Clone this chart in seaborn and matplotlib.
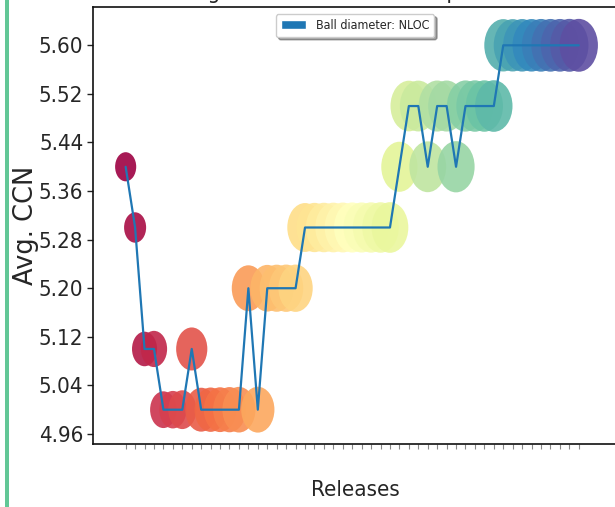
import numpy as np
import matplotlib
matplotlib.use("Agg")
import matplotlib.pyplot as plt
from matplotlib.path import Path
from matplotlib.markers import MarkerStyle
from matplotlib.patches import Patch, Rectangle
import seaborn as sns

# Average cyclomatic complexity per release
avg_ccn = [5.40, 5.30, 5.10, 5.10, 5.00, 5.00, 5.00, 5.10,
           5.00, 5.00, 5.00, 5.00, 5.00, 5.20, 5.00,
           5.20, 5.20, 5.20, 5.20,
           5.30, 5.30, 5.30, 5.30, 5.30, 5.30, 5.30, 5.30, 5.30, 5.30,
           5.40, 5.50, 5.50, 5.40, 5.50, 5.50, 5.40,
           5.50, 5.50, 5.50, 5.50,
           5.60, 5.60, 5.60, 5.60, 5.60, 5.60, 5.60, 5.60, 5.60]

# Code size per release (thousands of NLOC)
nloc_k = [44, 48, 62, 68, 70, 73, 78, 96,
          100, 102, 104, 106, 108, 109, 109,
          113, 115, 116, 116,
          124, 126, 127, 128, 129, 130, 130, 131, 132, 133,
          130, 133, 134, 134, 135, 135, 136,
          136, 137, 137, 138,
          142, 142, 143, 143, 144, 144, 144, 145, 145]

releases = list(range(len(avg_ccn)))
y_ticks = [4.96, 5.04, 5.12, 5.20, 5.28, 5.36, 5.44, 5.52, 5.60]

sns.set_style("ticks")
plt.rcParams["font.family"] = ["DejaVu Sans"]
plt.rcParams["font.stretch"] = "condensed"

fig = plt.figure(figsize=(6.15, 5.07), dpi=100)
ax = fig.add_axes([93 / 615, 63 / 507, 524 / 615, 437.5 / 507])

# Tall elliptical ball marker
circle = Path.unit_circle()
ellipse = Path(circle.vertices * np.array([1 / 1.38, 1.0]), circle.codes)
ball = MarkerStyle(ellipse)

sns.scatterplot(x=releases, y=avg_ccn, hue=releases, palette="Spectral",
                hue_norm=(0, len(releases) - 1),
                size=nloc_k, sizes=(10 * min(nloc_k), 10 * max(nloc_k)),
                size_norm=(min(nloc_k), max(nloc_k)),
                marker=ball, alpha=0.9, linewidth=0, edgecolor="none",
                legend=False, ax=ax, zorder=1)
sns.lineplot(x=releases, y=avg_ccn, color="#1f77b4", linewidth=1.6,
             ax=ax, zorder=3)

ax.set_xlim(-3.46, 52.05)
ax.set_ylim(4.9435, 5.6639)
ax.set_yticks(y_ticks)
ax.set_yticklabels([f"{v:.2f}" for v in y_ticks])
ax.set_xticks(releases)
ax.set_xticklabels([""] * len(releases))
ax.tick_params(axis="y", labelsize=16, length=4.5, width=1, pad=2.5,
               color="#222222")
ax.tick_params(axis="x", length=3.5, width=0.8, color="#888888")
for side in ("left", "bottom", "top", "right"):
    ax.spines[side].set_visible(True)
    ax.spines[side].set_color("#111111")
    ax.spines[side].set_linewidth(1.2)

ax.set_xlabel("Releases", fontsize=16)
ax.xaxis.set_label_coords(0.5, -0.083)
ax.set_ylabel("Avg. CCN", fontsize=18.5, fontstretch="normal")
ax.yaxis.set_label_coords(-0.103, 0.5)
ax.set_title("Average CCN and total NLOC per release", fontsize=16, pad=5.6)

ax.legend(handles=[Patch(facecolor="#1f77b4", label="Ball diameter: NLOC")],
          loc="upper center", fontsize=9, fancybox=True, shadow=True,
          framealpha=1, borderaxespad=0.6)

fig.add_artist(Rectangle((5 / 615, 0), 4 / 615, 1, transform=fig.transFigure,
                         facecolor="#62c796", edgecolor="none"))

fig.savefig("out.png", dpi=100)
